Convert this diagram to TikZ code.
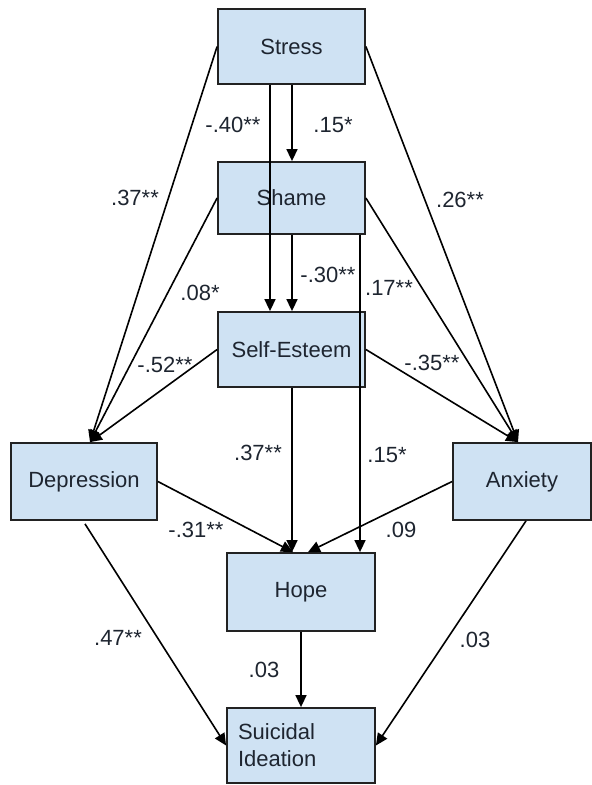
\documentclass[tikz,border=0pt]{standalone}
\usepackage{fontspec}
\setmainfont{Liberation Sans}
\usetikzlibrary{arrows.meta,calc}
\definecolor{boxfill}{HTML}{CFE2F3}
\definecolor{boxline}{HTML}{222222}
\definecolor{txt}{HTML}{1E2530}
\begin{document}
\begin{tikzpicture}[x=1pt,y=-1pt,
  var/.style={draw=boxline,fill=boxfill,line width=1.8pt,inner sep=0pt,text=txt,
    font=\fontsize{22}{27}\selectfont,minimum width=#1},
  var/.default=147pt,
  conn/.style={line width=1.6pt,-{Triangle[length=12pt,width=11pt]}},
  coef/.style={font=\fontsize{22}{26}\selectfont,text=txt,inner sep=1pt}]
\useasboundingbox (0,0) rectangle (592,785);
% nodes
\node[var,minimum height=75pt] (stress) at (291.5,46.5) {Stress};
\node[var,minimum height=72pt] (shame) at (291.5,198) {Shame};
\node[var,minimum height=75pt] (se) at (291.5,349.5) {Self-Esteem};
\node[var=146pt,minimum height=77pt] (dep) at (84,481.5) {Depression};
\node[var=138pt,minimum height=77pt] (anx) at (522,481.5) {Anxiety};
\node[var=148pt,minimum height=78pt] (hope) at (301,592) {Hope};
\node[var=148pt,minimum height=75pt,align=left,text width=126pt] (si) at (301,745.5) {Suicidal\\Ideation};
% vertical paths from stress and shame
\draw[conn] ([xshift=-21.5pt]stress.south) -- ([xshift=-21.5pt]se.north);
\draw[conn] ([xshift=0.5pt]stress.south) -- ([xshift=0.5pt]shame.north);
\draw[conn] ([xshift=0.5pt]shame.south) -- ([xshift=0.5pt]se.north);
\draw[conn] ([xshift=68.5pt]shame.south) -- ([xshift=68.5pt]shame.south |- hope.north);
% to depression
\draw[conn] (stress.west) -- ([xshift=6pt]dep.north);
\draw[conn] (shame.west) -- ([xshift=6pt]dep.north);
\draw[conn] (se.west) -- ([xshift=6pt]dep.north);
% to anxiety
\draw[conn] (stress.east) -- ([xshift=-4pt]anx.north);
\draw[conn] (shame.east) -- ([xshift=-4pt]anx.north);
\draw[conn] (se.east) -- ([xshift=-4pt]anx.north);
% to hope
\draw[conn] ([xshift=0.5pt]se.south) -- ([xshift=0.5pt]se.south |- hope.north);
\draw[conn] (dep.east) -- ([xshift=-8pt]hope.north);
\draw[conn] (anx.west) -- ([xshift=7pt]hope.north);
% to suicidal ideation
\draw[conn] (hope.south) -- (si.north);
\draw[conn] ([xshift=1pt,yshift=-3pt]dep.south) -- (si.west);
\draw[conn] ([xshift=4pt]anx.south) -- (si.east);
% coefficients
\node[coef] (c1) at (233,125) {-.40**};
\node[coef] (c2) at (333,125) {.15*};
\node[coef] (c3) at (135,198) {.37**};
\node[coef] (c4) at (460,200) {.26**};
\node[coef] (c5) at (328,275) {-.30**};
\node[coef] (c6) at (200,293) {.08*};
\node[coef] (c7) at (389,288) {.17**};
\node[coef] (c8) at (165,365) {-.52**};
\node[coef] (c9) at (432,363) {-.35**};
\node[coef] (c10) at (258,453) {.37**};
\node[coef] (c11) at (387,455) {.15*};
\node[coef] (c12) at (196,530) {-.31**};
\node[coef] (c13) at (401,530) {.09};
\node[coef] (c14) at (118,638) {.47**};
\node[coef] (c15) at (264,670) {.03};
\node[coef] (c16) at (475,640) {.03};
\end{tikzpicture}
\end{document}
